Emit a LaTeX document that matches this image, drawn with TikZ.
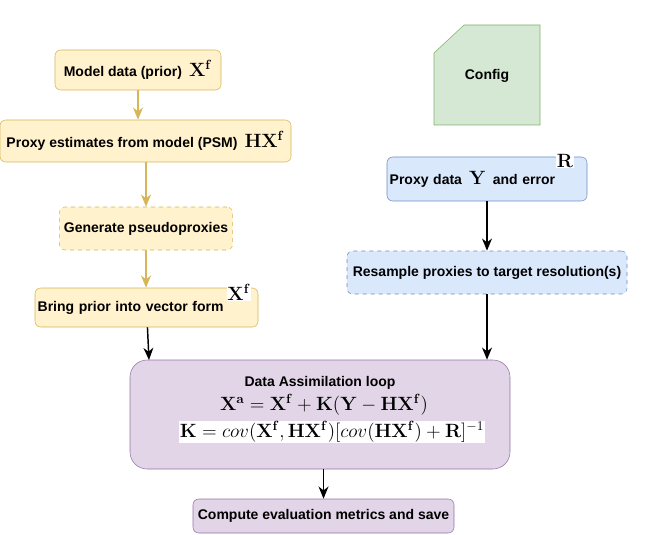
\documentclass[tikz,border=0pt]{standalone}
\usepackage[no-math]{fontspec}
\setmainfont{Liberation Sans}
\usepackage{amsmath}
\usetikzlibrary{arrows.meta}
\usetikzlibrary{positioning}
\usepackage{xcolor}
\definecolor{priorfill}{HTML}{FFF2CC}
\definecolor{priordraw}{HTML}{D6B656}
\definecolor{proxyfill}{HTML}{DAE8FC}
\definecolor{proxydraw}{HTML}{6C8EBF}
\definecolor{loopfill}{HTML}{E1D5E7}
\definecolor{loopdraw}{HTML}{9673A6}
\definecolor{cfgfill}{HTML}{D5E8D4}
\definecolor{cfgdraw}{HTML}{82B366}

\begin{document}
\begin{tikzpicture}[x=0.75pt,y=-0.75pt,
    font=\fontsize{10.5}{12}\selectfont\bfseries,
    prior/.style={shape=rectangle,rounded corners=1.5mm,draw=priordraw,fill=priorfill,thin},
    proxy/.style={shape=rectangle,rounded corners=1.5mm,draw=proxydraw,fill=proxyfill,thin},
    evalbox/.style={shape=rectangle,rounded corners=1.5mm,draw=loopdraw,fill=loopfill,thin},
    priorflow/.style={-{Stealth[length=3.2mm,width=2.6mm,inset=1mm]},draw=priordraw,line width=1.2pt},
    flow/.style={-{Stealth[length=3.2mm,width=2.6mm,inset=1mm]},draw=black,line width=1.1pt},
    mathlbl/.style={fill=white,inner sep=0.5pt,font=\Large}]
    %\draw[help lines] (0,0) grid (655,534); % Only for Development
  \useasboundingbox (0,0) rectangle (655,534);

    % prior side
    \node[prior,
      minimum width = 124.5pt,
      minimum height = 30pt] (model) at (138,70) {Model data (prior)\enspace{\Large$\mathbf{X^f}$}};
    \node[prior,
      inner sep=1pt,
      minimum width = 218.25pt,
      minimum height = 31.5pt] (psm) at (145.5,141) {Proxy estimates from model (PSM)\enspace{\Large$\mathbf{HX^f}$}};
    \node[prior,dashed,
      minimum width = 128.25pt,
      minimum height = 32.25pt] (pseudo) at (146,228.5) {Generate pseudoproxies};
    \node[prior,
      inner sep=2pt,
      text width = 163.25pt,
      align=left,
      minimum height = 29.25pt] (vector) at (146.5,307.5) {Bring prior into vector form};
    \node[mathlbl] (vecX) at (239,292) {$\mathbf{X^f}$};

    % config card
    \draw[draw=cfgdraw,fill=cfgfill,thin]
      (464,25) -- (540,25) -- (540,125) -- (434,125) -- (434,53) -- cycle;
    \node (config) at (487,76) {Config};

    % proxy side
    \node[proxy,
      inner sep=2pt,
      text width = 146pt,
      align=left,
      minimum height = 33pt] (obs) at (487,179) {Proxy data\enspace{\Large$\mathbf{Y}$}\enspace and error};
    \node[mathlbl] (obsR) at (565,161) {$\mathbf{R}$};
    \node[proxy,dashed,
      minimum width = 210pt,
      minimum height = 32.25pt] (resample) at (487,272.5) {Resample proxies to target resolution(s)};

    % assimilation
    \node[shape=rectangle,
      rounded corners=4.5mm,
      draw=loopdraw,
      fill=loopfill,
      thin,
      minimum width = 285pt,
      minimum height = 81.75pt] (loop) at (320,414.5) {};
    \node[inner sep=0.5pt] (looptitle) at (320,383) {Data Assimilation loop};
    \node[inner sep=0pt,font=\Large] (update) at (324,405) {$\mathbf{X^a}=\mathbf{X^f}+\mathbf{K}(\mathbf{Y}-\mathbf{HX^f})$};
    \node[mathlbl] (gain) at (332,432) {$\mathbf{K}=cov(\mathbf{X^f},\mathbf{HX^f})[cov(\mathbf{HX^f})+\mathbf{R}]^{-1}$};
    \node[evalbox,
      minimum width = 195.75pt,
      minimum height = 25.5pt] (metrics) at (323.5,516) {Compute evaluation metrics and save};

    \coordinate (loopL) at (149,360);
    \draw[priorflow] (model) -- (model |- psm.north);
    \draw[priorflow] (psm.south -| pseudo) -- (pseudo);
    \draw[priorflow] (pseudo) -- (pseudo |- vector.north);
    \draw[flow] (vector) -- (loopL);
    \draw[flow] (obs) -- (resample);
    \draw[flow] (resample) -- (resample |- loop.north);
    \draw[flow] (loop.south -| metrics) -- (metrics);

  \end{tikzpicture}
\end{document}
